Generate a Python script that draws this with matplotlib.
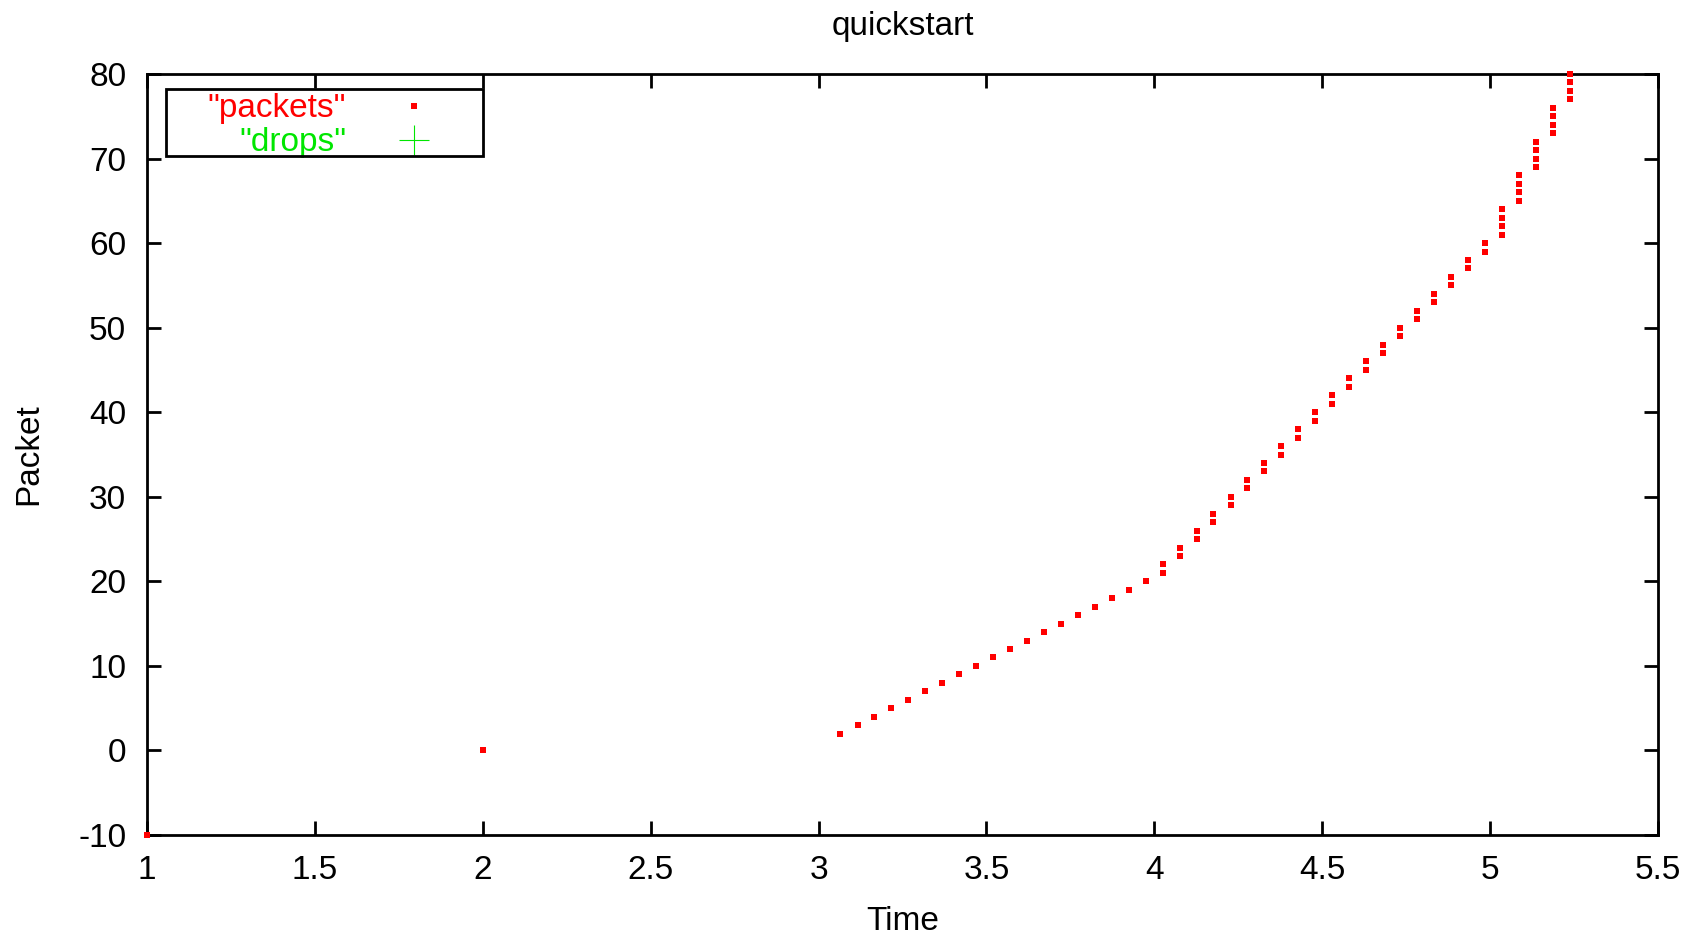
import matplotlib
matplotlib.use("Agg")
import matplotlib.pyplot as plt
from matplotlib.patches import Rectangle

# ---- data ----
time = [1.0, 2.0,
        3.065, 3.116, 3.166, 3.217, 3.267, 3.318, 3.368, 3.419, 3.469, 3.520,
        3.570, 3.621, 3.671, 3.722, 3.772, 3.823, 3.873, 3.924, 3.974,
        4.025, 4.025, 4.075, 4.075, 4.126, 4.126, 4.176, 4.176, 4.227, 4.227,
        4.277, 4.277, 4.328, 4.328, 4.378, 4.378, 4.429, 4.429, 4.479, 4.479,
        4.530, 4.530, 4.580, 4.580, 4.631, 4.631, 4.681, 4.681, 4.732, 4.732,
        4.782, 4.782, 4.833, 4.833, 4.883, 4.883, 4.934, 4.934, 4.984, 4.984,
        5.035, 5.035, 5.035, 5.035, 5.085, 5.085, 5.085, 5.085,
        5.136, 5.136, 5.136, 5.136, 5.186, 5.186, 5.186, 5.186,
        5.237, 5.237, 5.237, 5.237]
packet = [-10, 0,
          2, 3, 4, 5, 6, 7, 8, 9, 10, 11,
          12, 13, 14, 15, 16, 17, 18, 19, 20,
          21, 22, 23, 24, 25, 26, 27, 28, 29, 30,
          31, 32, 33, 34, 35, 36, 37, 38, 39, 40,
          41, 42, 43, 44, 45, 46, 47, 48, 49, 50,
          51, 52, 53, 54, 55, 56, 57, 58, 59, 60,
          61, 62, 63, 64, 65, 66, 67, 68,
          69, 70, 71, 72, 73, 74, 75, 76,
          77, 78, 79, 80]
drop_time = []
drop_packet = []

x_ticks = [1, 1.5, 2, 2.5, 3, 3.5, 4, 4.5, 5, 5.5]
x_ticklabels = ["1", "1.5", "2", "2.5", "3", "3.5", "4", "4.5", "5", "5.5"]
y_ticks = [-10, 0, 10, 20, 30, 40, 50, 60, 70, 80]
y_ticklabels = ["-10", "0", "10", "20", "30", "40", "50", "60", "70", "80"]

title = "quickstart"
xlabel = "Time"
ylabel = "Packet"
series_labels = ['"packets"', '"drops"']

# ---- style ----
plt.rcParams['font.family'] = ['Liberation Sans', 'DejaVu Sans']
FS = 24
RED = '#ff0000'
GREEN = '#00e600'
LW = 2.0

W, H = 1694, 936
fig = plt.figure(figsize=(W / 100, H / 100), dpi=100)
left, right, top, bottom = 147, 1658, 74, 835
ax = fig.add_axes([left / W, 1 - bottom / H, (right - left) / W, (bottom - top) / H])

ax.plot(time, packet, linestyle='none', marker='s', markersize=3.7,
        markeredgewidth=0, color=RED, clip_on=False, zorder=5)
ax.plot(drop_time, drop_packet, linestyle='none', marker='+', markersize=21,
        markeredgewidth=0.8, color=GREEN, clip_on=False, zorder=5)

ax.set_xlim(1, 5.5)
ax.set_ylim(-10, 80)
ax.set_xticks(x_ticks)
ax.set_xticklabels(x_ticklabels)
ax.set_yticks(y_ticks)
ax.set_yticklabels(y_ticklabels)

for s in ax.spines.values():
    s.set_linewidth(LW)
    s.set_color('black')
ax.tick_params(axis='both', which='major', direction='in', length=10, width=LW,
               top=True, right=True, labelsize=FS, colors='black')
ax.tick_params(axis='x', pad=14.5)
ax.tick_params(axis='y', pad=15)

# title and axis labels
fig.text((left + right) / 2 / W, 1 - 35 / H, title, ha='center', va='baseline', fontsize=FS)
fig.text((left + right) / 2 / W, 1 - 930 / H, xlabel, ha='center', va='baseline', fontsize=FS)
fig.text(29 / W, 1 - 454 / H, ylabel, ha='center', va='center', rotation=90, fontsize=FS)

# gnuplot-style key
def ax_x(px):
    return (px - left) / (right - left)

def ax_y(py):
    return (bottom - py) / (bottom - top)

box = Rectangle((ax_x(166), ax_y(156)), ax_x(483) - ax_x(166), ax_y(89) - ax_y(156),
                transform=ax.transAxes, fill=False, edgecolor='black', linewidth=LW,
                zorder=4, clip_on=False)
ax.add_patch(box)
ax.text(ax_x(346), ax_y(108), series_labels[0], transform=ax.transAxes, ha='right',
        va='center', fontsize=FS, color=RED)
ax.text(ax_x(346), ax_y(142), series_labels[1], transform=ax.transAxes, ha='right',
        va='center', fontsize=FS, color=GREEN)
ax.plot([ax_x(414)], [ax_y(106)], transform=ax.transAxes, linestyle='none', marker='s',
        markersize=3.7, markeredgewidth=0, color=RED, clip_on=False)
ax.plot([ax_x(414)], [ax_y(140)], transform=ax.transAxes, linestyle='none', marker='+',
        markersize=21, markeredgewidth=0.8, color=GREEN, clip_on=False)

fig.savefig("out.png", dpi=100)
